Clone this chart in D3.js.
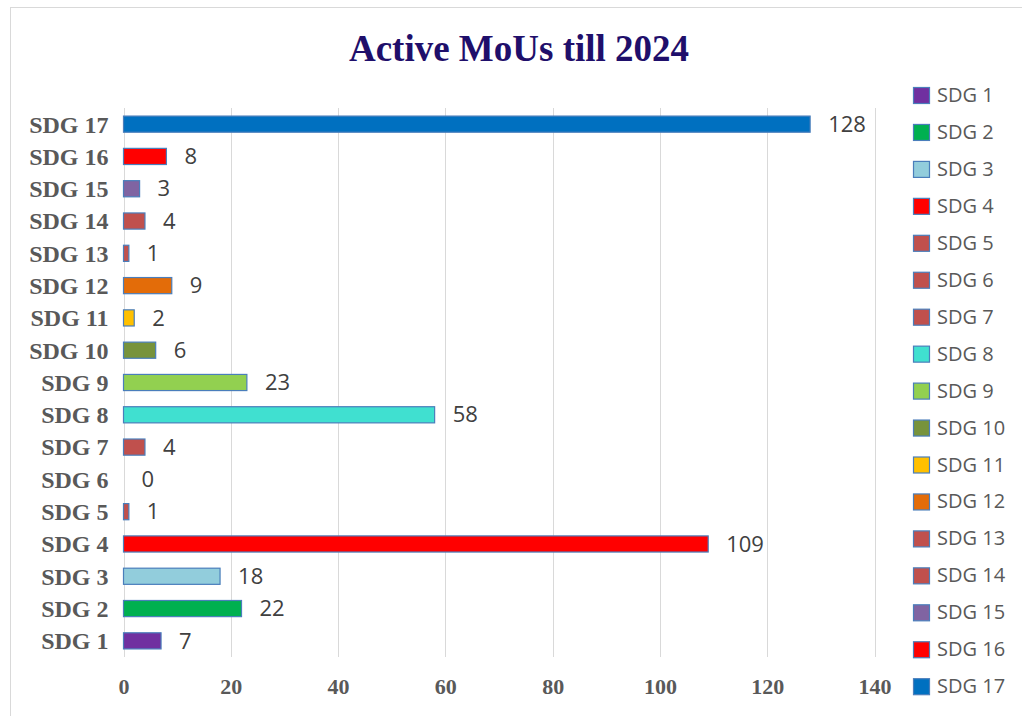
<!DOCTYPE html>
<html>
<head>
<meta charset="utf-8">
<script src="https://cdn.jsdelivr.net/npm/d3@7"></script>
<style>
  body { margin: 0; background: #fff; }
  svg { display: block; }
</style>
</head>
<body>
<div id="chart"></div>
<script>
// chart data
var categories = ["SDG 1", "SDG 2", "SDG 3", "SDG 4", "SDG 5", "SDG 6", "SDG 7", "SDG 8", "SDG 9",
                  "SDG 10", "SDG 11", "SDG 12", "SDG 13", "SDG 14", "SDG 15", "SDG 16", "SDG 17"];
var values = [7, 22, 18, 109, 1, 0, 4, 58, 23, 6, 2, 9, 1, 4, 3, 8, 128];
var colors = ["#7030A0", "#00B050", "#92CDDC", "#FF0000", "#C0504D", "#C0504D", "#C0504D", "#40E0D0", "#92D050",
              "#77933C", "#FFC000", "#E36C09", "#C0504D", "#C0504D", "#8064A2", "#FF0000", "#0070C0"];
var xTicks = [0, 20, 40, 60, 80, 100, 120, 140];
var title = "Active MoUs till 2024";

var width = 1022, height = 716;
var margin = {top: 108, left: 123.5, right: 147.5, bottom: 59};

var svg = d3.select("#chart").append("svg")
    .attr("width", width)
    .attr("height", height);

// outer frame
svg.append("rect")
    .attr("x", 10.5).attr("y", 7.5)
    .attr("width", width).attr("height", height)
    .attr("fill", "#fff")
    .attr("stroke", "#d9d9d9");

var x = d3.scaleLinear()
    .domain([0, 140])
    .range([margin.left, width - margin.right]);

var y = d3.scaleBand()
    .domain(categories.slice().reverse())
    .range([margin.top, height - margin.bottom])
    .paddingInner(0.5)
    .paddingOuter(0.25);

// title
svg.append("text")
    .attr("x", 519).attr("y", 61)
    .attr("text-anchor", "middle")
    .attr("font-family", "Liberation Serif, serif")
    .attr("font-weight", "bold")
    .attr("font-size", 37)
    .attr("fill", "#1F0F6B")
    .text(title);

// gridlines
svg.append("g")
    .selectAll("line")
    .data(xTicks)
    .enter().append("line")
    .attr("x1", function(d) { return Math.round(x(d)) + 0.5; })
    .attr("x2", function(d) { return Math.round(x(d)) + 0.5; })
    .attr("y1", margin.top)
    .attr("y2", height - margin.bottom)
    .attr("stroke", "#d9d9d9")
    .attr("stroke-width", 1);

// x axis labels
var xAxis = d3.axisBottom(x).tickValues(xTicks).tickSize(0).tickPadding(0);
var gx = svg.append("g")
    .attr("transform", "translate(0," + 694 + ")")
    .call(xAxis);
gx.select(".domain").remove();
gx.selectAll("text")
    .attr("dy", 0)
    .attr("font-family", "Liberation Serif, serif")
    .attr("font-weight", "bold")
    .attr("font-size", 22)
    .attr("fill", "#595959");

// y axis labels
var yAxis = d3.axisLeft(y).tickSize(0).tickPadding(15);
var gy = svg.append("g")
    .attr("transform", "translate(" + margin.left + ",0)")
    .call(yAxis);
gy.select(".domain").remove();
gy.selectAll("text")
    .attr("dy", "0.35em")
    .attr("font-family", "Liberation Serif, serif")
    .attr("font-weight", "bold")
    .attr("font-size", 24)
    .attr("fill", "#595959");

// bars
svg.append("g")
    .selectAll("rect")
    .data(categories)
    .enter().append("rect")
    .attr("x", x(0))
    .attr("y", function(d) { return y(d); })
    .attr("width", function(d, i) { return x(values[i]) - x(0); })
    .attr("height", y.bandwidth())
    .attr("fill", function(d, i) { return colors[i]; })
    .attr("stroke", function(d, i) { return values[i] > 0 ? "#4A7EBB" : "none"; })
    .attr("stroke-width", 1.2);

// value labels
svg.append("g")
    .selectAll("text")
    .data(categories)
    .enter().append("text")
    .attr("x", function(d, i) { return x(values[i]) + 18; })
    .attr("y", function(d) { return y(d) + y.bandwidth() / 2; })
    .attr("dy", "0.35em")
    .attr("font-family", "Open Sans, sans-serif")
    .attr("font-size", 22)
    .attr("fill", "#404040")
    .text(function(d, i) { return values[i]; });

// legend
var legend = svg.append("g")
    .selectAll("g")
    .data(categories)
    .enter().append("g")
    .attr("transform", function(d, i) { return "translate(913," + (95 + i * 36.95) + ")"; });

legend.append("rect")
    .attr("x", 0.5).attr("y", -7.5)
    .attr("width", 16).attr("height", 16)
    .attr("fill", function(d, i) { return colors[i]; })
    .attr("stroke", "#4A7EBB")
    .attr("stroke-width", 1.2);

legend.append("text")
    .attr("x", 24).attr("y", 0)
    .attr("dy", "0.35em")
    .attr("font-family", "Open Sans, sans-serif")
    .attr("font-size", 20)
    .attr("fill", "#595959")
    .text(function(d) { return d; });
</script>
</body>
</html>
